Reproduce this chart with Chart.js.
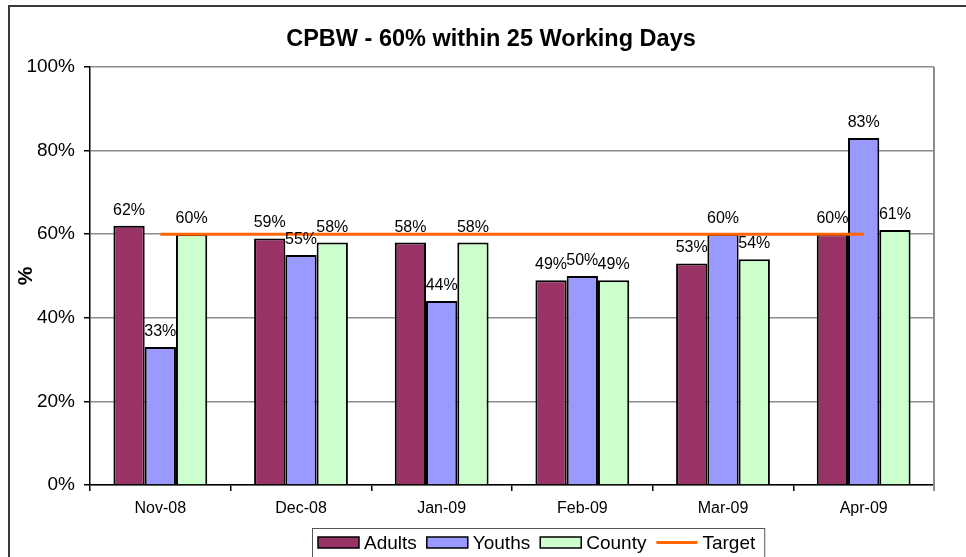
<!DOCTYPE html>
<html>
<head>
<meta charset="utf-8">
<script src="https://cdn.jsdelivr.net/npm/chart.js@4.4.0/dist/chart.umd.min.js"></script>
<style>
  body { margin: 0; background: #fff; }
  #wrap { width: 966px; height: 557px; }
</style>
</head>
<body>
<div id="wrap"><canvas id="cpbwChart" width="966" height="557"></canvas></div>
<script>
// data
const months = ['Nov-08', 'Dec-08', 'Jan-09', 'Feb-09', 'Mar-09', 'Apr-09'];
const adults = [62, 59, 58, 49, 53, 60];
const youths = [33, 55, 44, 50, 60, 83];
const county = [60, 58, 58, 49, 54, 61];
const target = [60, 60, 60, 60, 60, 60];
const yMin = 0, yMax = 100, yStep = 20;
const chartTitle = 'CPBW - 60% within 25 Working Days';

const FONT = '"Liberation Sans", Arial, sans-serif';

// outer frame, title and plot border on the right
const framePlugin = {
    id: 'frame',
    beforeDraw(chart) {
        const ctx = chart.ctx;
        ctx.save();
        ctx.fillStyle = '#fff';
        ctx.fillRect(0, 0, chart.width, chart.height);
        ctx.strokeStyle = '#3a3a3a';
        ctx.lineWidth = 2;
        ctx.strokeRect(9, 6, chart.width, chart.height);
        // title (Excel centres it a bit right of the plot area)
        ctx.font = 'bold 23.5px ' + FONT;
        ctx.fillStyle = '#000';
        ctx.textAlign = 'center';
        ctx.textBaseline = 'alphabetic';
        ctx.fillText(chartTitle, 491, 46);
        ctx.restore();
    },
    afterDraw(chart) {
        const a = chart.chartArea;
        const ctx = chart.ctx;
        ctx.save();
        ctx.strokeStyle = '#8c8c8c';
        ctx.lineWidth = 2;
        ctx.beginPath();
        ctx.moveTo(a.right, a.top);
        ctx.lineTo(a.right, a.bottom + 6);
        ctx.stroke();
        ctx.restore();
    }
};

// value labels above bars
const barLabels = {
    id: 'barLabels',
    afterDatasetsDraw(chart) {
        const ctx = chart.ctx;
        ctx.save();
        ctx.font = '16px ' + FONT;
        ctx.fillStyle = '#000';
        ctx.textAlign = 'center';
        ctx.textBaseline = 'alphabetic';
        chart.data.datasets.forEach((ds, i) => {
            if (ds.type === 'line') return;
            const meta = chart.getDatasetMeta(i);
            meta.data.forEach((bar, j) => {
                ctx.fillText(ds.data[j] + '%', bar.x, bar.y - 11);
            });
        });
        ctx.restore();
    }
};

// boxed legend at the bottom, like the Excel one
const boxLegend = {
    id: 'boxLegend',
    afterDraw(chart) {
        const ctx = chart.ctx;
        ctx.save();
        ctx.font = '19px ' + FONT;
        const sw = 41, gapTxt = 5, gapItem = 10;
        const items = chart.data.datasets.map(ds => ({ ds, w: ctx.measureText(ds.label).width }));
        let total = 6 + 9;
        items.forEach((it, k) => { total += sw + gapTxt + it.w + (k ? gapItem : 0); });
        const cx = 538;
        const left = Math.round(cx - total / 2);
        const top = 528;
        ctx.strokeStyle = '#555';
        ctx.lineWidth = 1;
        ctx.strokeRect(left + 0.5, top + 0.5, total, 40);

        let x = left + 6;
        const midY = 542.5;
        items.forEach((it, k) => {
            if (k) x += gapItem;
            const ds = it.ds;
            if (ds.type === 'line') {
                ctx.strokeStyle = ds.borderColor;
                ctx.lineWidth = 3;
                ctx.beginPath();
                ctx.moveTo(x, midY);
                ctx.lineTo(x + sw, midY);
                ctx.stroke();
            } else {
                ctx.fillStyle = ds.backgroundColor;
                ctx.fillRect(x, midY - 5.5, sw, 11);
                ctx.strokeStyle = '#000';
                ctx.lineWidth = 1.5;
                ctx.strokeRect(x, midY - 5.5, sw, 11);
            }
            x += sw + gapTxt;
            ctx.fillStyle = '#000';
            ctx.textBaseline = 'alphabetic';
            ctx.textAlign = 'left';
            ctx.fillText(ds.label, x, 549);
            x += it.w;
        });
        ctx.restore();
    }
};

const ctx = document.getElementById('cpbwChart').getContext('2d');
const chart = new Chart(ctx, {
    type: 'bar',
    data: {
        labels: months,
        datasets: [
            { label: 'Adults', data: adults, backgroundColor: '#993366', borderColor: '#000', borderWidth: 2, order: 1 },
            { label: 'Youths', data: youths, backgroundColor: '#9999FF', borderColor: '#000', borderWidth: 2, order: 1 },
            { label: 'County', data: county, backgroundColor: '#CCFFCC', borderColor: '#000', borderWidth: 2, order: 1 },
            { type: 'line', label: 'Target', data: target, borderColor: '#FF6600', backgroundColor: '#FF6600',
              borderWidth: 3, pointRadius: 0, fill: false, order: 0 }
        ]
    },
    options: {
        responsive: false,
        animation: false,
        datasets: { bar: { categoryPercentage: 0.667, barPercentage: 1 } },
        layout: { padding: { left: 10, right: 32, top: 67, bottom: 32 } },
        plugins: {
            legend: { display: false },
            tooltip: { enabled: false },
            title: { display: false }
        },
        scales: {
            x: {
                offset: true,
                grid: { display: true, drawOnChartArea: false, drawTicks: true, tickLength: 6, color: '#000', lineWidth: 1.5 },
                border: { color: '#000', width: 1.5 },
                ticks: { color: '#000', font: { family: FONT, size: 16 }, padding: 8, maxRotation: 0 },
                afterFit(scale) { scale.height = 40; }
            },
            y: {
                min: yMin,
                max: yMax,
                ticks: {
                    stepSize: yStep,
                    color: '#000',
                    font: { family: FONT, size: 19 },
                    padding: 9,
                    callback: v => v + '%'
                },
                grid: { color: '#8c8c8c', lineWidth: 1.5, tickLength: 6, tickColor: '#000', tickWidth: 1.5 },
                border: { color: '#000', width: 1.5 },
                title: {
                    display: true,
                    text: '%',
                    color: '#000',
                    font: { family: FONT, size: 21, weight: 'bold' },
                    padding: { top: 4, bottom: 0 }
                },
                afterFit(scale) { scale.width = 80; }
            }
        }
    },
    plugins: [framePlugin, barLabels, boxLegend]
});
</script>
</body>
</html>
